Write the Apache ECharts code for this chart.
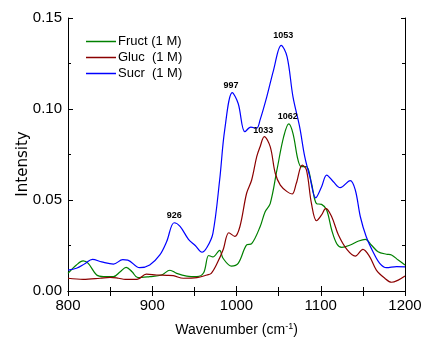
<!DOCTYPE html>
<html>
<head>
<meta charset="utf-8">
<script src="https://cdn.jsdelivr.net/npm/echarts@6/dist/echarts.min.js"></script>
<style>
  html, body { margin: 0; padding: 0; background: #fff; }
  #chart { width: 421px; height: 337px; }
</style>
</head>
<body>
<div id="chart"></div>
<script>
// 数据
const fructX = [800, 810, 818, 824, 834, 842, 854, 862, 869, 876, 883, 897, 911, 921, 929, 941, 953, 961, 967, 972, 980, 984, 994, 1002, 1012, 1018, 1028, 1034, 1040, 1048, 1056, 1062, 1067, 1073, 1077, 1083, 1089, 1095, 1101, 1107, 1113, 1119, 1125, 1135, 1145, 1153, 1160, 1168, 1178, 1184, 1192, 1200];
const fructY = [0.0097, 0.0143, 0.0165, 0.0152, 0.0088, 0.0079, 0.0079, 0.0106, 0.0130, 0.0106, 0.0073, 0.0079, 0.0088, 0.0114, 0.0097, 0.0082, 0.0079, 0.0100, 0.0195, 0.0187, 0.0223, 0.0180, 0.0137, 0.0152, 0.0253, 0.0260, 0.0353, 0.0436, 0.0480, 0.0665, 0.0848, 0.0918, 0.0866, 0.0720, 0.0683, 0.0683, 0.0592, 0.0480, 0.0476, 0.0445, 0.0335, 0.0260, 0.0240, 0.0253, 0.0275, 0.0284, 0.0253, 0.0216, 0.0202, 0.0198, 0.0170, 0.0143];

const glucX = [800, 818, 838, 850, 860, 868, 882, 893, 905, 917, 925, 937, 953, 965, 970, 977, 984, 991, 998, 1004, 1012, 1018, 1024, 1028, 1033, 1040, 1046, 1052, 1060, 1066, 1071, 1078, 1083, 1089, 1095, 1101, 1106, 1113, 1121, 1131, 1141, 1150, 1158, 1166, 1176, 1184, 1192, 1200];
const glucY = [0.0070, 0.0064, 0.0070, 0.0075, 0.0070, 0.0064, 0.0064, 0.0093, 0.0088, 0.0086, 0.0084, 0.0070, 0.0073, 0.0088, 0.0097, 0.0152, 0.0225, 0.0320, 0.0300, 0.0353, 0.0537, 0.0610, 0.0738, 0.0793, 0.0848, 0.0793, 0.0647, 0.0582, 0.0546, 0.0533, 0.0592, 0.0692, 0.0665, 0.0480, 0.0386, 0.0418, 0.0454, 0.0408, 0.0308, 0.0229, 0.0192, 0.0229, 0.0189, 0.0115, 0.0070, 0.0048, 0.0060, 0.0082];

const sucrX = [800, 810, 820, 829, 840, 854, 865, 871, 885, 897, 909, 917, 926, 933, 943, 951, 959, 965, 972, 980, 986, 995, 1002, 1010, 1017, 1024, 1028, 1036, 1044, 1053, 1060, 1067, 1075, 1081, 1087, 1094, 1101, 1107, 1115, 1123, 1135, 1141, 1147, 1154, 1162, 1170, 1178, 1190, 1200];
const sucrY = [0.0115, 0.0125, 0.0150, 0.0174, 0.0160, 0.0148, 0.0172, 0.0170, 0.0128, 0.0143, 0.0198, 0.0270, 0.0375, 0.0355, 0.0284, 0.0250, 0.0213, 0.0240, 0.0317, 0.0610, 0.0885, 0.1090, 0.1030, 0.0875, 0.0900, 0.0895, 0.0940, 0.1068, 0.1214, 0.1350, 0.1288, 0.1068, 0.0900, 0.0738, 0.0628, 0.0512, 0.0573, 0.0637, 0.0600, 0.0568, 0.0606, 0.0555, 0.0408, 0.0298, 0.0216, 0.0152, 0.0128, 0.0134, 0.0133];

// 峰标注（位置 + 标签偏移）
const sucrPeaks = [[926, 0.0375], [997, 0.1090], [1053, 0.1350]];
const sucrPeakOffsets = [[0, 0], [-3, 0], [2, -2]];
const glucPeaks = [[1033, 0.0848]];
const glucPeakOffsets = [[-1, 0]];
const fructPeaks = [[1062, 0.0918]];
const fructPeakOffsets = [[-1, 0]];

const seriesNames = ['Fruct (1 M)', 'Gluc  (1 M)', 'Sucr  (1 M)'];
const seriesColors = ['#008000', '#8b0000', '#0000ff'];

const FONT = 'Liberation Sans, Arial, sans-serif';

function pairs(xs, ys) {
  return xs.map((x, i) => [x, ys[i]]);
}

function peakMarks(peaks, offsets, dist) {
  return {
    symbol: 'circle',
    symbolSize: 0,
    silent: true,
    label: {
      show: true,
      position: 'top',
      distance: dist,
      color: '#000',
      fontSize: 9,
      fontWeight: 'bold',
      fontFamily: FONT,
      formatter: (p) => String(p.data.coord[0]),
    },
    data: peaks.map((p, i) => ({ coord: p, label: { offset: offsets[i] } })),
  };
}

function lineSeries(name, color, data, peaks, offsets, dist) {
  return {
    name: name,
    type: 'line',
    data: data,
    smooth: 0.35,
    showSymbol: false,
    symbol: 'none',
    lineStyle: { color: color, width: 1.2 },
    itemStyle: { color: color },
    markPoint: peakMarks(peaks, offsets, dist),
  };
}

const axisLineStyle = { lineStyle: { color: '#000', width: 1 } };

let option = {
  animation: false,
  backgroundColor: '#fff',
  grid: { left: 68, right: 16, top: 18, bottom: 46, outerBoundsMode: 'none', containLabel: false },
  legend: {
    data: seriesNames,
    orient: 'vertical',
    left: 81,
    top: 30,
    itemWidth: 30,
    itemHeight: 1.5,
    itemGap: 3,
    icon: 'rect',
    textStyle: { color: '#000', fontSize: 13, fontFamily: FONT, padding: [0, 0, 0, -3] },
    selectedMode: false,
  },
  xAxis: [
    {
      type: 'value',
      min: 800,
      max: 1200,
      interval: 100,
      name: 'Wavenumber (cm{sup|-1})',
      nameLocation: 'middle',
      nameGap: 31,
      nameMoveOverlap: false,
      nameTextStyle: {
        color: '#000',
        fontSize: 14,
        fontFamily: FONT,
        rich: { sup: { fontSize: 9, verticalAlign: 'top', padding: [0, 0, 8, 0], fontFamily: FONT } },
      },
      axisLine: axisLineStyle,
      axisTick: { inside: true, length: 5, lineStyle: { color: '#000' } },
      minorTick: { show: true, splitNumber: 2, length: 4, lineStyle: { color: '#000' } },
      axisLabel: { color: '#000', fontSize: 15, fontFamily: FONT, margin: 7, formatter: (v) => String(v) },
      splitLine: { show: false },
    },
    {
      type: 'value',
      position: 'top',
      min: 800,
      max: 1200,
      interval: 100,
      axisLine: axisLineStyle,
      axisTick: { inside: true, length: 5, lineStyle: { color: '#000' } },
      minorTick: { show: true, splitNumber: 2, length: 5, lineStyle: { color: '#000' } },
      axisLabel: { show: false },
      splitLine: { show: false },
    },
  ],
  yAxis: [
    {
      type: 'value',
      min: 0,
      max: 0.15,
      interval: 0.05,
      name: 'Intensity',
      nameLocation: 'middle',
      nameRotate: 90,
      nameGap: 37,
      nameMoveOverlap: false,
      nameTextStyle: { color: '#000', fontSize: 15, fontFamily: 'DejaVu Sans', padding: [0, 19, 0, 0] },
      axisLine: axisLineStyle,
      axisTick: { inside: true, length: 5, lineStyle: { color: '#000' } },
      minorTick: { show: true, splitNumber: 2, length: 3, lineStyle: { color: '#000' } },
      axisLabel: {
        color: '#000',
        fontSize: 15,
        fontFamily: FONT,
        margin: 6,
        formatter: (v) => v.toFixed(2),
      },
      splitLine: { show: false },
    },
    {
      type: 'value',
      position: 'right',
      min: 0,
      max: 0.15,
      interval: 0.05,
      axisLine: axisLineStyle,
      axisTick: { inside: true, length: 4, lineStyle: { color: '#000' } },
      minorTick: { show: true, splitNumber: 2, length: 3, lineStyle: { color: '#000' } },
      axisLabel: { show: false },
      splitLine: { show: false },
    },
  ],
  series: [
    lineSeries(seriesNames[0], seriesColors[0], pairs(fructX, fructY), fructPeaks, fructPeakOffsets, 3),
    lineSeries(seriesNames[1], seriesColors[1], pairs(glucX, glucY), glucPeaks, glucPeakOffsets, 1.5),
    lineSeries(seriesNames[2], seriesColors[2], pairs(sucrX, sucrY), sucrPeaks, sucrPeakOffsets, 3),
  ],
};

let myChart = echarts.init(document.getElementById('chart'), null, { renderer: 'canvas' });
myChart.setOption(option);
</script>
</body>
</html>
